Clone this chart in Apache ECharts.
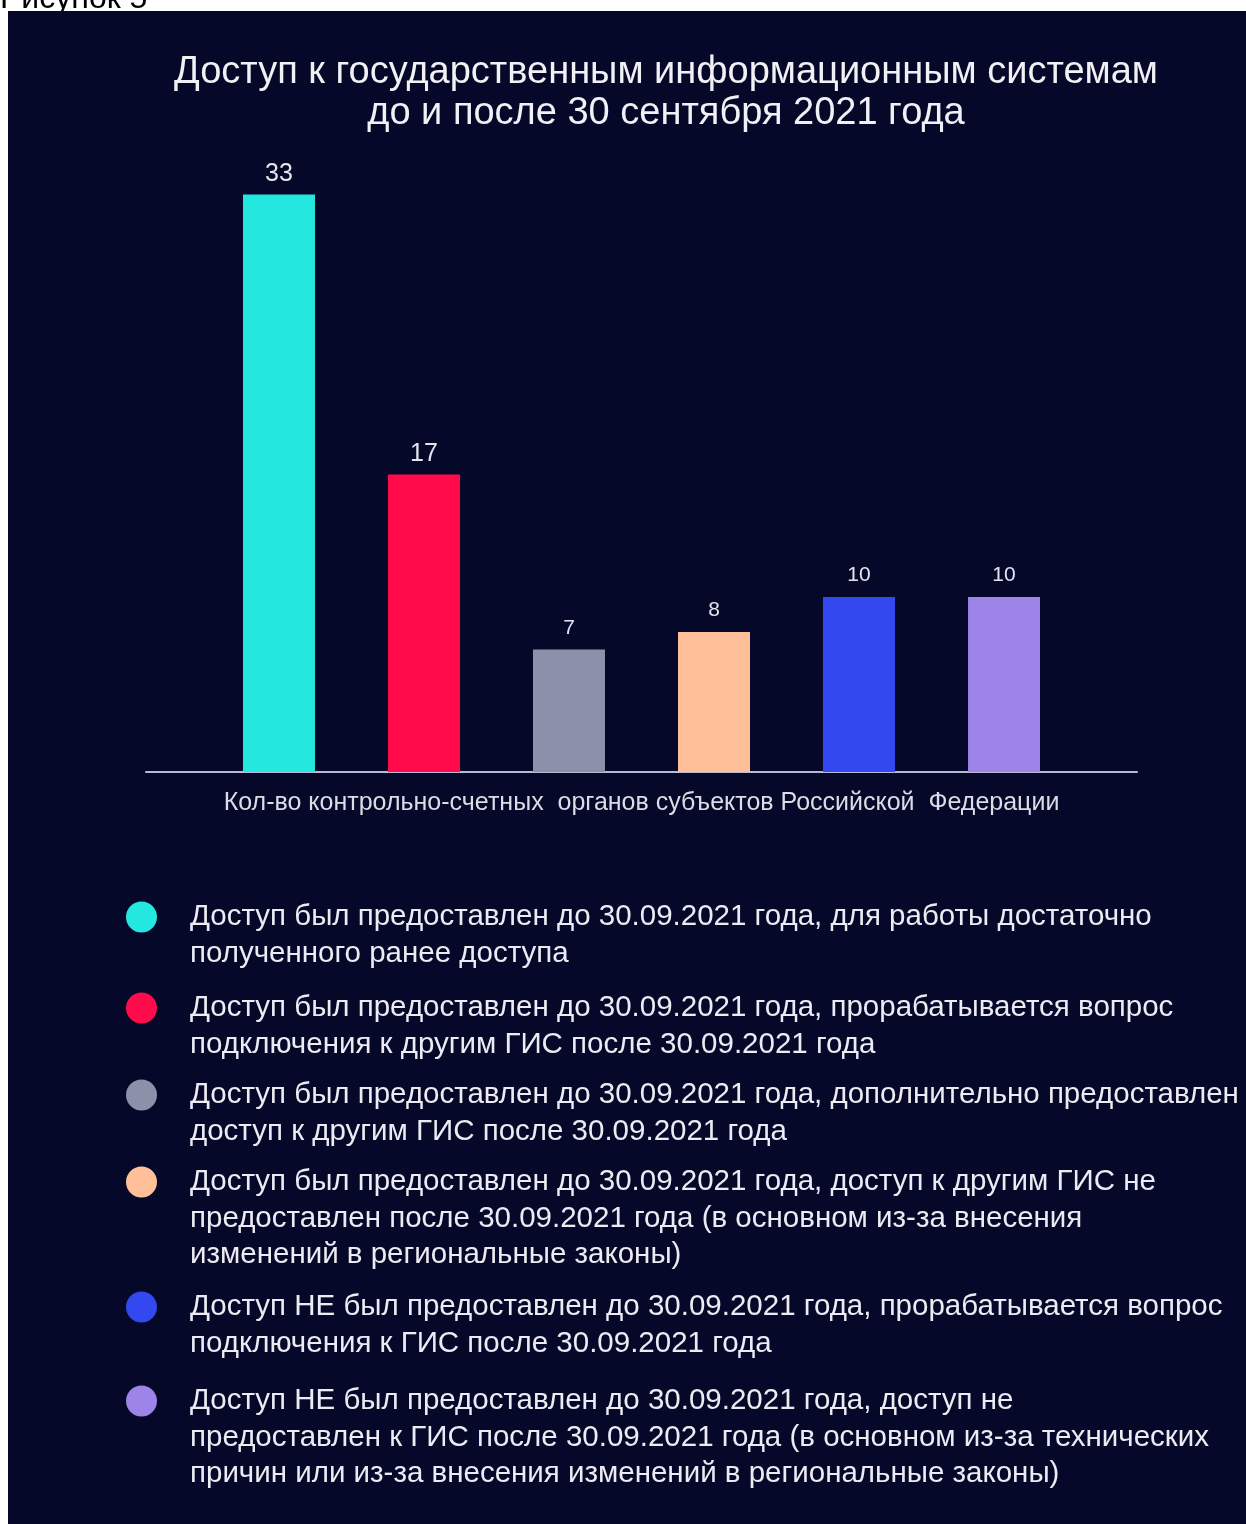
<!DOCTYPE html>
<html>
<head>
<meta charset="utf-8">
<script src="https://cdn.jsdelivr.net/npm/echarts@6/dist/echarts.min.js"></script>
<style>
  html, body { margin: 0; padding: 0; background: #fff; }
  #chart { width: 1246px; height: 1524px; }
</style>
</head>
<body>
<div id="chart"></div>
<script>
// данные
var categories = ['Кол-во контрольно-счетных  органов субъектов Российской  Федерации'];
var seriesNames = [
  'Доступ был предоставлен до 30.09.2021 года, для работы достаточно\nполученного ранее доступа',
  'Доступ был предоставлен до 30.09.2021 года, прорабатывается вопрос\nподключения к другим ГИС после 30.09.2021 года',
  'Доступ был предоставлен до 30.09.2021 года, дополнительно предоставлен\nдоступ к другим ГИС после 30.09.2021 года',
  'Доступ был предоставлен до 30.09.2021 года, доступ к другим ГИС не\nпредоставлен после 30.09.2021 года (в основном из-за внесения\nизменений в региональные законы)',
  'Доступ НЕ был предоставлен до 30.09.2021 года, прорабатывается вопрос\nподключения к ГИС после 30.09.2021 года',
  'Доступ НЕ был предоставлен до 30.09.2021 года, доступ не\nпредоставлен к ГИС после 30.09.2021 года (в основном из-за технических\nпричин или из-за внесения изменений в региональные законы)'
];
var values = [33, 17, 7, 8, 10, 10];

// оформление
var colors = ['#24E8DF', '#FF0A4B', '#8C90A8', '#FFBF98', '#3448F0', '#9C84E8'];
var labelSizes = [25, 25, 21, 21, 21, 21];
var legendFirstLine = [917, 1008, 1095, 1182, 1307, 1401]; // центр первой строки
var lh = 36.5;

var chart = echarts.init(document.getElementById('chart'));

var series = values.map(function (v, i) {
  return {
    name: seriesNames[i],
    type: 'bar',
    data: [v],
    barWidth: 72,
    barGap: '101.4%',
    itemStyle: { color: colors[i] },
    label: {
      show: true,
      position: 'top',
      distance: labelSizes[i] > 22 ? 8 : 11,
      color: '#e4e4ec',
      fontSize: labelSizes[i],
      fontFamily: 'Liberation Sans'
    }
  };
});

// отдельная легенда на каждый пункт; пустые строки сверху,
// чтобы кружок стоял напротив первой строки
var legends = seriesNames.map(function (name, i) {
  var n = name.split('\n').length;
  var pad = new Array(n).join('\n');
  return {
    left: 126,
    top: legendFirstLine[i] - (2 * n - 1) * lh / 2,
    padding: 0,
    orient: 'vertical',
    icon: 'circle',
    itemWidth: 31,
    itemHeight: 31,
    selectedMode: false,
    data: [name],
    formatter: function (s) { return pad + s; },
    textStyle: {
      color: '#ecebf3',
      fontSize: 29.5,
      fontFamily: 'Liberation Sans',
      lineHeight: lh,
      padding: [0, 0, 0, 28]
    }
  };
});

var option = {
  backgroundColor: '#ffffff',
  animation: false,
  graphic: [
    {
      type: 'text', left: 0, top: -17, z: -20,
      style: { text: 'Рисунок 5', font: '32px "Liberation Sans"', fill: '#000' }
    },
    {
      type: 'rect', left: 8, top: 11, z: -10,
      shape: { width: 1238, height: 1513 },
      style: { fill: '#050828' }
    }
  ],
  title: {
    text: 'Доступ к государственным информационным системам\nдо и после 30 сентября 2021 года',
    left: 666,
    top: 52,
    padding: 0,
    textAlign: 'center',
    textStyle: {
      color: '#f0f0f5',
      fontSize: 38,
      fontWeight: 'normal',
      fontFamily: '"Liberation Sans", Arial, sans-serif',
      lineHeight: 41
    }
  },
  legend: legends,
  grid: { left: 146, right: 109, top: 159.5, bottom: 752 },
  xAxis: {
    type: 'category',
    data: categories,
    axisLine: { lineStyle: { color: '#b9b9d4', width: 2 } },
    axisTick: { show: false },
    axisLabel: {
      color: '#dcdce6',
      fontSize: 25,
      margin: 19,
      fontFamily: '"Liberation Sans", Arial, sans-serif'
    }
  },
  yAxis: {
    type: 'value',
    min: 0,
    max: 35,
    show: false,
    splitLine: { show: false }
  },
  series: series
};

chart.setOption(option);
</script>
</body>
</html>
